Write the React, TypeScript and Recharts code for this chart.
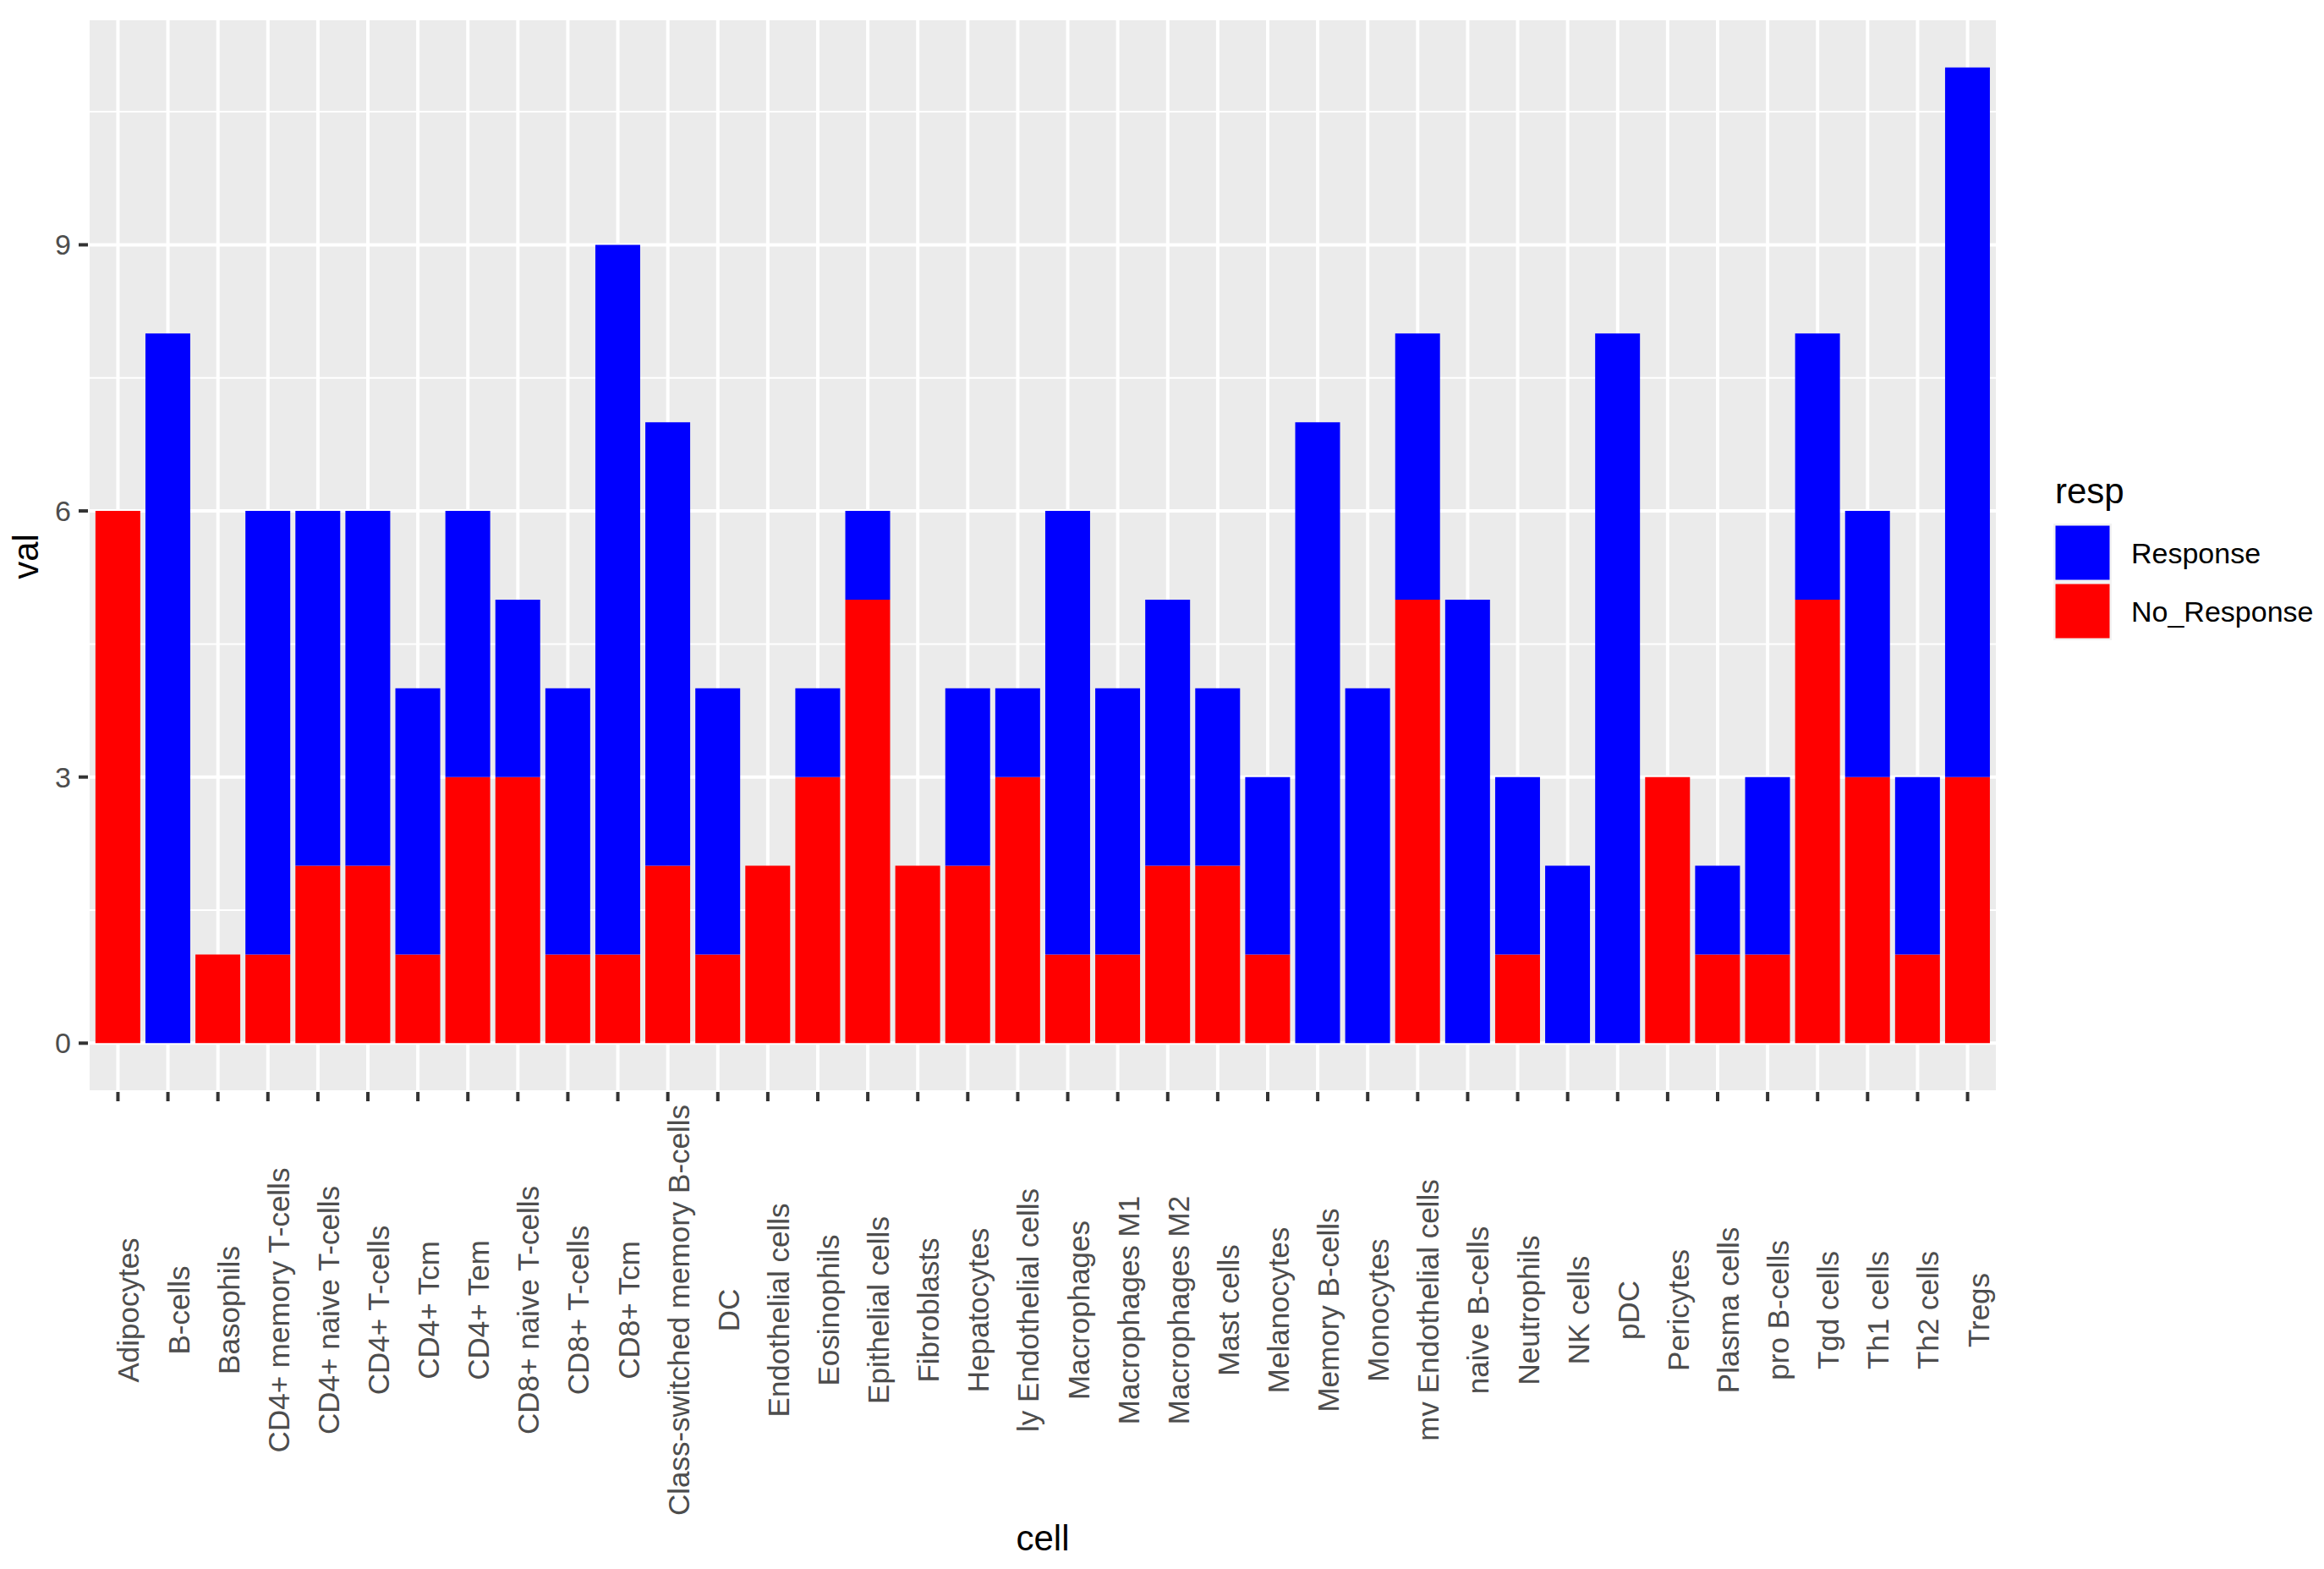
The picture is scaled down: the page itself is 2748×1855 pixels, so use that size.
import React from 'react'
import { BarChart, Bar, XAxis, YAxis, CartesianGrid } from 'recharts'

const cells = [
  'Adipocytes', 'B-cells', 'Basophils', 'CD4+ memory T-cells', 'CD4+ naive T-cells',
  'CD4+ T-cells', 'CD4+ Tcm', 'CD4+ Tem', 'CD8+ naive T-cells', 'CD8+ T-cells',
  'CD8+ Tcm', 'Class-switched memory B-cells', 'DC', 'Endothelial cells', 'Eosinophils',
  'Epithelial cells', 'Fibroblasts', 'Hepatocytes', 'ly Endothelial cells', 'Macrophages',
  'Macrophages M1', 'Macrophages M2', 'Mast cells', 'Melanocytes', 'Memory B-cells',
  'Monocytes', 'mv Endothelial cells', 'naive B-cells', 'Neutrophils', 'NK cells',
  'pDC', 'Pericytes', 'Plasma cells', 'pro B-cells', 'Tgd cells',
  'Th1 cells', 'Th2 cells', 'Tregs',
]

const noResponse = [6, 0, 1, 1, 2, 2, 1, 3, 3, 1, 1, 2, 1, 2, 3, 5, 2, 2, 3, 1, 1, 2, 2, 1, 0, 0, 5, 0, 1, 0, 0, 3, 1, 1, 5, 3, 1, 3]
const response = [0, 8, 0, 5, 4, 4, 3, 3, 2, 3, 8, 5, 3, 0, 1, 1, 0, 2, 1, 5, 3, 3, 2, 2, 7, 4, 3, 5, 2, 2, 8, 0, 1, 2, 3, 3, 2, 8]

const yTicks = [0, 3, 6, 9]
const yMinor = [1.5, 4.5, 7.5, 10.5]
const yDomain = [-0.55, 11.55]

const legendItems = [
  { label: 'Response', color: '#0000FF' },
  { label: 'No_Response', color: '#FF0000' },
]

const data = cells.map((cell, i) => ({
  cell,
  No_Response: noResponse[i],
  Response: response[i],
}))

const FONT = '"Liberation Sans", Arial, Helvetica, sans-serif'

function XTick({ x, y, payload }: any) {
  return (
    <text
      transform={`translate(${x + 25},${y + 247}) rotate(-90)`}
      textAnchor="middle"
      fontSize={35}
      fontFamily={FONT}
      fill="#4D4D4D"
    >
      {payload.value}
    </text>
  )
}

function YTick({ x, y, payload }: any) {
  return (
    <text x={x} y={y + 12} textAnchor="end" fontSize={34} fontFamily={FONT} fill="#4D4D4D">
      {payload.value}
    </text>
  )
}

export default function App() {
  // minor grid lines, ggplot style (halfway between major ticks)
  const minorGen = ({ yAxis, offset }: any) =>
    yMinor.map((v) =>
      yAxis && typeof yAxis.scale === 'function'
        ? yAxis.scale(v)
        : offset.top + (offset.height * (yDomain[1] - v)) / (yDomain[1] - yDomain[0]),
    )

  return (
    <div style={{ position: 'relative', width: 2748, height: 1855, background: '#fff', fontFamily: FONT }}>
      <style>{'body{margin:0}'}</style>
      <BarChart
        width={2748}
        height={1855}
        data={data}
        margin={{ top: 22, right: 386, bottom: 64, left: 0 }}
        barCategoryGap="5%"
      >
        <CartesianGrid
          vertical={false}
          fill="#EBEBEB"
          stroke="#FFFFFF"
          strokeWidth={2}
          horizontalCoordinatesGenerator={minorGen}
        />
        <CartesianGrid stroke="#FFFFFF" strokeWidth={4} />
        <XAxis
          dataKey="cell"
          type="category"
          interval={0}
          height={500}
          padding={{ left: 5.9, right: 5.9 }}
          axisLine={false}
          tickLine={{ stroke: '#333333', strokeWidth: 4 }}
          tickSize={11}
          tickMargin={0}
          tick={<XTick />}
        />
        <YAxis
          type="number"
          domain={yDomain}
          ticks={yTicks}
          allowDataOverflow
          width={104}
          axisLine={false}
          tickLine={{ stroke: '#333333', strokeWidth: 4 }}
          tickSize={11}
          tickMargin={9}
          tick={<YTick />}
        />
        <Bar dataKey="No_Response" stackId="a" fill="#FF0000" isAnimationActive={false} />
        <Bar dataKey="Response" stackId="a" fill="#0000FF" isAnimationActive={false} />
      </BarChart>

      <svg
        width={2748}
        height={1855}
        style={{ position: 'absolute', left: 0, top: 0, pointerEvents: 'none' }}
      >
        <text
          transform="translate(45,658) rotate(-90)"
          textAnchor="middle"
          fontSize={42}
          fontFamily={FONT}
          fill="#000"
        >
          val
        </text>
        <text x={1233} y={1833} textAnchor="middle" fontSize={42} fontFamily={FONT} fill="#000">
          cell
        </text>
        <text x={2430} y={595} fontSize={42} fontFamily={FONT} fill="#000">
          resp
        </text>
        {legendItems.map((item, i) => {
          const top = 619 + i * 69
          return (
            <g key={item.label}>
              <rect x={2428} y={top} width={69} height={69} fill="#F2F2F2" />
              <rect x={2430.5} y={top + 2.5} width={64} height={64} fill={item.color} />
              <text x={2520} y={top + 34.5 + 12} fontSize={34} fontFamily={FONT} fill="#000">
                {item.label}
              </text>
            </g>
          )
        })}
      </svg>
    </div>
  )
}
